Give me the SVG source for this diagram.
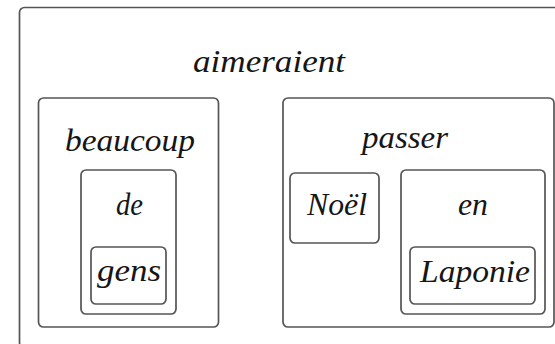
<svg xmlns="http://www.w3.org/2000/svg" width="555" height="344" viewBox="0 0 555 344">
<style>
.box{fill:none;stroke:#555;stroke-width:1.7}
</style>
<rect width="555" height="344" fill="#fff"/>
<g font-family="Liberation Serif, serif" font-style="italic" font-size="32" fill="#161616" text-anchor="middle">
<g id="aimeraient">
<rect class="box" x="19.5" y="7.5" width="545" height="340" rx="5"/>
<text x="269" y="72" textLength="152" lengthAdjust="spacingAndGlyphs">aimeraient</text>
</g>
<g id="beaucoup">
<rect class="box" x="38.5" y="98" width="180" height="229" rx="5"/>
<text x="130" y="151" textLength="130" lengthAdjust="spacingAndGlyphs">beaucoup</text>
</g>
<g id="de">
<rect class="box" x="81" y="170" width="95" height="144" rx="5"/>
<text x="129.5" y="215" textLength="27" lengthAdjust="spacingAndGlyphs">de</text>
</g>
<g id="gens">
<rect class="box" x="91" y="247" width="75" height="57" rx="5"/>
<text x="129" y="281" textLength="64" lengthAdjust="spacingAndGlyphs">gens</text>
</g>
<g id="passer">
<rect class="box" x="283" y="98" width="271" height="229" rx="5"/>
<text x="405" y="148" textLength="86" lengthAdjust="spacingAndGlyphs">passer</text>
</g>
<g id="noel">
<rect class="box" x="290" y="173" width="89" height="70" rx="5"/>
<text x="337" y="215" textLength="60" lengthAdjust="spacingAndGlyphs">Noël</text>
</g>
<g id="en">
<rect class="box" x="401" y="170" width="144" height="144" rx="5"/>
<text x="473" y="215" textLength="30" lengthAdjust="spacingAndGlyphs">en</text>
</g>
<g id="laponie">
<rect class="box" x="410" y="247" width="125" height="57" rx="5"/>
<text x="475" y="282" textLength="110" lengthAdjust="spacingAndGlyphs">Laponie</text>
</g>
</g>
<g id="connectors"/>
</svg>
